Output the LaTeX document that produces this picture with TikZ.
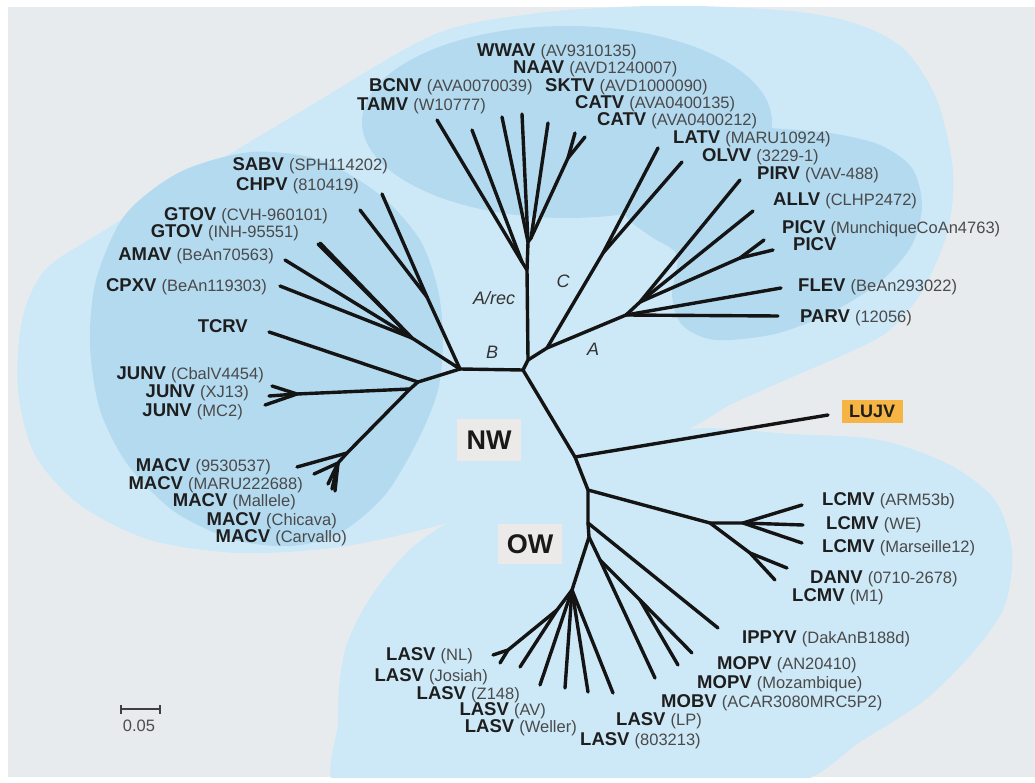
\documentclass[tikz,border=0pt]{standalone}
\usepackage{fontspec}
\setmainfont{Liberation Sans}
\definecolor{bggray}{HTML}{E8EBEE}
\definecolor{lightblue}{HTML}{CDE9F7}
\definecolor{darkblue}{HTML}{B4DAF0}
\definecolor{boxgray}{HTML}{ECEAE9}
\definecolor{lujvorange}{HTML}{F5B443}
\definecolor{namecol}{HTML}{1E1E1E}
\definecolor{idgray}{HTML}{4A4A4A}
\newcommand\vlab[2]{\textbf{#1} {\fontsize{16.5}{18}\selectfont\color{idgray}(#2)}}
\begin{document}
\begin{tikzpicture}[x=1pt,y=-1pt,
  tree/.style={line width=3.4pt,line cap=round,line join=round,draw=black!92},
  lr/.style={anchor=west,inner sep=0pt,text height=11pt,text depth=1pt,font=\fontsize{18.5}{20}\selectfont,text=namecol},
  ll/.style={anchor=east,inner sep=0pt,text height=11pt,text depth=1pt,font=\fontsize{18.5}{20}\selectfont,text=namecol},
  clade/.style={font=\fontsize{18}{20}\selectfont\itshape,text=black!80,inner sep=0pt},
  grp/.style={font=\fontsize{27}{30}\selectfont\bfseries,fill=boxgray,text=black!90,minimum width=64pt,minimum height=42pt,inner sep=0pt}
]
\useasboundingbox (0,0) rectangle (1035,783);
\fill[white] (0,0) rectangle (1035,783);
\fill[bggray] (8,7) rectangle (1035,777);
\begin{scope}
\clip (8,7) rectangle (1035,777);
% big NW blob
\fill[lightblue] plot[smooth cycle] coordinates {(18,390) (22,320) (45,270) (100,233) (200,172) (300,112) (433,35) (530,14) (620,7) (700,6) (800,12) (860,25) (905,50) (937,100) (953,170) (948,230) (923,290) (890,330) (850,352) (790,378) (730,405) (687,430) (600,466) (520,497) (440,525) (340,547) (240,553) (150,540) (80,505) (35,455)};
% OW blob
\fill[lightblue] plot[smooth cycle] coordinates {(350,800) (338,720) (345,650) (372,595) (415,545) (480,505) (590,457) (690,429) (790,434) (880,440) (950,465) (995,500) (1012,550) (1005,605) (975,650) (925,700) (860,742) (790,785) (600,805)};
% clade B blob
\fill[darkblue] plot[smooth cycle] coordinates {(90,345) (96,280) (125,215) (180,172) (251,152) (320,160) (380,195) (420,240) (438,290) (443,340) (438,390) (418,440) (385,495) (340,533) (292,546) (235,540) (175,512) (128,465) (100,410)};
% clade A/rec blob
\fill[darkblue] (567,122) ellipse [x radius=205pt, y radius=96pt];
% clade A + C blob
\fill[darkblue] plot[smooth cycle] coordinates {(618,178) (628,148) (660,128) (710,124) (770,128) (830,133) (880,145) (912,168) (922,205) (912,245) (880,282) (830,313) (775,334) (715,340) (682,325) (672,295) (677,255) (650,236) (625,215)};
\end{scope}

% ---------- tree coordinates ----------
\coordinate (c0) at (523,370);
\coordinate (bn) at (460,369);
\coordinate (n1) at (528,360);
\coordinate (ar) at (527,270);
\coordinate (art) at (522,262);
\coordinate (ar2) at (528,242);
\coordinate (ar3) at (531,238);
\coordinate (catn) at (568,158);
\coordinate (tamvT) at (437,120);
\coordinate (bcnvT) at (472,130);
\coordinate (wwavT) at (502,117);
\coordinate (naavT) at (522,114);
\coordinate (sktvT) at (548,123);
\coordinate (catv1T) at (575,133);
\coordinate (catv2T) at (585,137);
\coordinate (n2) at (547,348);
\coordinate (cn) at (603,253);
\coordinate (latvT) at (658,148);
\coordinate (olvvT) at (682,162);
\coordinate (an) at (626,315);
\coordinate (a2) at (640,302);
\coordinate (parvT) at (778,316);
\coordinate (flevT) at (781,288);
\coordinate (pirvT) at (740,180);
\coordinate (allvT) at (753,211);
\coordinate (picn) at (740,258);
\coordinate (picv1T) at (764,240);
\coordinate (picv2T) at (773,250);
% B clade
\coordinate (sc) at (427,297);
\coordinate (sabvT) at (382,194);
\coordinate (chpvT) at (360,210);
\coordinate (gac) at (412,338);
\coordinate (gtov1T) at (320,243);
\coordinate (gtov2T) at (318,244);
\coordinate (amavT) at (285,260);
\coordinate (cpxvT) at (280,286);
\coordinate (b1) at (418,382);
\coordinate (tcrvT) at (269,332);
\coordinate (b2) at (410,389);
\coordinate (junn) at (297,394);
\coordinate (jun1T) at (272,386);
\coordinate (jun2T) at (269,396);
\coordinate (jun3T) at (265,405);
\coordinate (macn) at (347,453);
\coordinate (macn2) at (338,463);
\coordinate (mac1T) at (297,467);
\coordinate (mac2T) at (314,474);
\coordinate (mac3T) at (328,484);
\coordinate (mac4T) at (332,489);
\coordinate (mac5T) at (335,491);
% OW
\coordinate (lj) at (575,457);
\coordinate (lujvT) at (828,415);
\coordinate (ow1) at (588,490);
\coordinate (lc1) at (710,523);
\coordinate (lc2) at (743,523);
\coordinate (lcm1T) at (802,505);
\coordinate (lcm2T) at (803,525);
\coordinate (lcm3T) at (802,543);
\coordinate (dn) at (750,553);
\coordinate (danvT) at (787,568);
\coordinate (lcm4T) at (775,580);
\coordinate (ow15) at (588,523);
\coordinate (ippyT) at (718,628);
\coordinate (ow2) at (589,537);
\coordinate (mn) at (600,560);
\coordinate (mobvT) at (655,678);
\coordinate (mpn) at (640,600);
\coordinate (mop1T) at (692,653);
\coordinate (mop2T) at (678,665);
\coordinate (ln) at (572,590);
\coordinate (l1) at (557,610);
\coordinate (nln) at (508,650);
\coordinate (nl1T) at (493,655);
\coordinate (nl2T) at (500,663);
\coordinate (josT) at (520,667);
\coordinate (z148T) at (540,685);
\coordinate (avT) at (565,688);
\coordinate (welT) at (588,692);
\coordinate (lpT) at (613,693);

% ---------- tree edges ----------
\draw[tree] (bn) -- (c0) -- (n1) -- (ar) -- (ar2) -- (ar3) -- (catn) -- (catv1T);
\draw[tree] (catn) -- (catv2T);
\draw[tree] (ar3) -- (sktvT);
\draw[tree] (ar2) -- (wwavT);
\draw[tree] (ar2) -- (naavT);
\draw[tree] (ar) -- (art) -- (tamvT);
\draw[tree] (art) -- (bcnvT);
\draw[tree] (n1) -- (n2) -- (an) -- (parvT);
\draw[tree] (n2) -- (cn) -- (latvT);
\draw[tree] (cn) -- (olvvT);
\draw[tree] (an) -- (flevT);
\draw[tree] (an) -- (a2) -- (pirvT);
\draw[tree] (a2) -- (allvT);
\draw[tree] (a2) -- (picn) -- (picv1T);
\draw[tree] (picn) -- (picv2T);
\draw[tree] (bn) -- (sc) -- (sabvT);
\draw[tree] (sc) -- (chpvT);
\draw[tree] (bn) -- (gac) -- (gtov1T);
\draw[tree] (gac) -- (gtov2T);
\draw[tree] (gac) -- (amavT);
\draw[tree] (gac) -- (cpxvT);
\draw[tree] (bn) -- (b1) -- (tcrvT);
\draw[tree] (b1) -- (b2) -- (junn) -- (jun1T);
\draw[tree] (junn) -- (jun2T);
\draw[tree] (junn) -- (jun3T);
\draw[tree] (b2) -- (macn) -- (mac1T);
\draw[tree] (macn) -- (macn2) -- (mac2T);
\draw[tree] (macn2) -- (mac3T);
\draw[tree] (macn2) -- (mac4T);
\draw[tree] (macn2) -- (mac5T);
\draw[tree] (c0) -- (lj) -- (lujvT);
\draw[tree] (lj) -- (ow1) -- (lc1) -- (lc2) -- (lcm2T);
\draw[tree] (lc2) -- (lcm1T);
\draw[tree] (lc2) -- (lcm3T);
\draw[tree] (lc1) -- (dn) -- (danvT);
\draw[tree] (dn) -- (lcm4T);
\draw[tree] (ow1) -- (ow15) -- (ippyT);
\draw[tree] (ow15) -- (ow2) -- (mn) -- (mobvT);
\draw[tree] (mn) -- (mpn) -- (mop1T);
\draw[tree] (mpn) -- (mop2T);
\draw[tree] (ow2) -- (ln) -- (lpT);
\draw[tree] (ln) -- (welT);
\draw[tree] (ln) -- (avT);
\draw[tree] (ln) -- (z148T);
\draw[tree] (ln) -- (l1) -- (josT);
\draw[tree] (l1) -- (nln) -- (nl1T);
\draw[tree] (nln) -- (nl2T);

% ---------- labels: top / right ----------
\node[lr] (wwav) at (477,52) {\vlab{WWAV}{AV9310135}};
\node[lr] (naav) at (513,69) {\vlab{NAAV}{AVD1240007}};
\node[lr] (bcnv) at (369,87) {\vlab{BCNV}{AVA0070039}};
\node[lr] (sktv) at (545,87) {\vlab{SKTV}{AVD1000090}};
\node[lr] (tamv) at (357,106) {\vlab{TAMV}{W10777}};
\node[lr] (catv1) at (575,104) {\vlab{CATV}{AVA0400135}};
\node[lr] (catv2) at (597,121) {\vlab{CATV}{AVA0400212}};
\node[lr] (latv) at (673,139) {\vlab{LATV}{MARU10924}};
\node[lr] (olvv) at (702,157) {\vlab{OLVV}{3229-1}};
\node[lr] (pirv) at (757,175) {\vlab{PIRV}{VAV-488}};
\node[lr] (allv) at (773,201) {\vlab{ALLV}{CLHP2472}};
\node[lr] (picv1) at (782,229) {\vlab{PICV}{MunchiqueCoAn4763}};
\node[lr] (picv2) at (793,246) {\textbf{PICV}};
\node[lr] (flev) at (798,286) {\vlab{FLEV}{BeAn293022}};
\node[lr] (parv) at (800,318) {\vlab{PARV}{12056}};
% ---------- labels: left ----------
\node[ll] (sabv) at (388,166) {\vlab{SABV}{SPH114202}};
\node[ll] (chpv) at (359,186) {\vlab{CHPV}{810419}};
\node[ll] (gtov1) at (328,216) {\vlab{GTOV}{CVH-960101}};
\node[ll] (gtov2) at (299,233) {\vlab{GTOV}{INH-95551}};
\node[ll] (amav) at (274,256) {\vlab{AMAV}{BeAn70563}};
\node[ll] (cpxv) at (267,286) {\vlab{CPXV}{BeAn119303}};
\node[ll] (tcrv) at (248,327) {\textbf{TCRV}};
\node[ll] (jun1) at (264,374) {\vlab{JUNV}{CbalV4454}};
\node[ll] (jun2) at (249,392) {\vlab{JUNV}{XJ13}};
\node[ll] (jun3) at (243,411) {\vlab{JUNV}{MC2}};
\node[ll] (mac1) at (271,466) {\vlab{MACV}{9530537}};
\node[ll] (mac2) at (303,484) {\vlab{MACV}{MARU222688}};
\node[ll] (mac3) at (296,501) {\vlab{MACV}{Mallele}};
\node[ll] (mac4) at (337,520) {\vlab{MACV}{Chicava}};
\node[ll] (mac5) at (347,537) {\vlab{MACV}{Carvallo}};
% ---------- labels: OW ----------
\node[lr] (lcm1) at (822,500) {\vlab{LCMV}{ARM53b}};
\node[lr] (lcm2) at (826,524) {\vlab{LCMV}{WE}};
\node[lr] (lcm3) at (822,547) {\vlab{LCMV}{Marseille12}};
\node[lr] (danv) at (810,578) {\vlab{DANV}{0710-2678}};
\node[lr] (lcm4) at (792,596) {\vlab{LCMV}{M1}};
\node[lr] (ippy) at (742,638) {\vlab{IPPYV}{DakAnB188d}};
\node[lr] (mop1) at (717,664) {\vlab{MOPV}{AN20410}};
\node[lr] (mop2) at (697,683) {\vlab{MOPV}{Mozambique}};
\node[lr] (mobv) at (661,702) {\vlab{MOBV}{ACAR3080MRC5P2}};
\node[lr] (laslp) at (616,720) {\vlab{LASV}{LP}};
\node[lr] (las80) at (580,740) {\vlab{LASV}{803213}};
\node[ll] (lasnl) at (473,655) {\vlab{LASV}{NL}};
\node[ll] (lasjo) at (488,676) {\vlab{LASV}{Josiah}};
\node[ll] (lasz) at (520,694) {\vlab{LASV}{Z148}};
\node[ll] (lasav) at (546,710) {\vlab{LASV}{AV}};
\node[ll] (laswe) at (577,727) {\vlab{LASV}{Weller}};

% ---------- clade labels ----------
\node[clade] (arec) at (494,298) {A/rec};
\node[clade] (cC) at (563,281) {C};
\node[clade] (cB) at (492,352) {B};
\node[clade] (cA) at (593,349) {A};
\node[grp] (nw) at (489,440) {NW};
\node[grp,minimum height=40pt] (ow) at (530,544) {OW};
\node[fill=lujvorange,inner sep=0pt,minimum width=61pt,minimum height=23pt,font=\fontsize{18}{20}\selectfont\bfseries,text=namecol] (lujv) at (872,411) {LUJV};

% ---------- scale bar ----------
\coordinate (sbL) at (121,709);
\coordinate (sbR) at (160,709);
\draw[line width=2.4pt,black!75] (sbL) -- (sbR);
\draw[line width=2pt,black!75] ([yshift=-4.5pt]sbL) -- ([yshift=4.5pt]sbL);
\draw[line width=2pt,black!75] ([yshift=-4.5pt]sbR) -- ([yshift=4.5pt]sbR);
\node[font=\fontsize{16.5}{18}\selectfont,text=black!70,inner sep=0pt] (sblab) at (139,726) {0.05};
\end{tikzpicture}
\end{document}
